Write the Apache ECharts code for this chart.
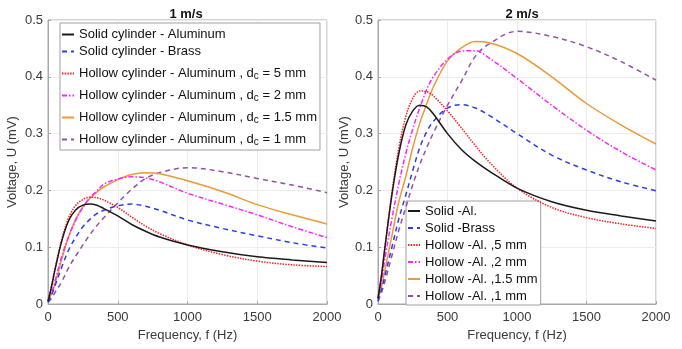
<!DOCTYPE html>
<html>
<head>
<meta charset="utf-8">
<script src="https://cdn.jsdelivr.net/npm/echarts@6/dist/echarts.min.js"></script>
<style>
html,body{margin:0;padding:0;background:#fff;}
#chart{width:682px;height:349px;}
</style>
</head>
<body>
<div id="chart"></div>
<script>
// Frequency samples (Hz)
const freq = [0,25,50,100,150,200,250,300,350,400,500,600,700,800,1000,1250,1500,1750,2000];
const xTicks = [0,500,1000,1500,2000];
const yTicks = [0,0.1,0.2,0.3,0.4,0.5];
const titles = ['1 m/s','2 m/s'];

// 1 m/s  (mV)
const v1SolidAl   = [0.005,0.030,0.060,0.112,0.148,0.166,0.174,0.176,0.174,0.168,0.155,0.140,0.128,0.118,0.104,0.092,0.083,0.0775,0.073];
const v1SolidBr   = [0.003,0.015,0.032,0.066,0.096,0.118,0.136,0.149,0.159,0.165,0.173,0.176,0.172,0.165,0.148,0.133,0.120,0.108,0.0985];
const v1Hollow5   = [0.005,0.032,0.062,0.115,0.153,0.174,0.184,0.188,0.187,0.183,0.170,0.153,0.137,0.124,0.104,0.087,0.0755,0.069,0.066];
const v1Hollow2   = [0.005,0.020,0.040,0.085,0.120,0.148,0.170,0.187,0.199,0.211,0.220,0.224,0.222,0.215,0.195,0.176,0.157,0.136,0.117];
const v1Hollow15  = [0.005,0.018,0.035,0.080,0.120,0.150,0.171,0.186,0.197,0.206,0.219,0.228,0.231,0.2295,0.217,0.198,0.175,0.157,0.141];
const v1Hollow1   = [0.003,0.010,0.020,0.040,0.065,0.085,0.104,0.122,0.138,0.152,0.178,0.202,0.221,0.231,0.240,0.233,0.221,0.2095,0.196];

// 2 m/s  (mV)
const v2SolidAl   = [0.010,0.050,0.100,0.192,0.265,0.315,0.340,0.350,0.347,0.334,0.300,0.272,0.251,0.234,0.204,0.180,0.165,0.155,0.146];
const v2SolidBr   = [0.005,0.025,0.050,0.100,0.150,0.192,0.235,0.275,0.303,0.322,0.345,0.351,0.345,0.332,0.300,0.262,0.236,0.215,0.1995];
const v2Hollow5   = [0.010,0.050,0.100,0.196,0.275,0.330,0.362,0.375,0.374,0.366,0.340,0.310,0.279,0.250,0.204,0.170,0.152,0.141,0.133];
const v2Hollow2   = [0.010,0.040,0.080,0.150,0.212,0.265,0.308,0.345,0.377,0.401,0.431,0.445,0.446,0.433,0.397,0.350,0.306,0.268,0.236];
const v2Hollow15  = [0.010,0.030,0.060,0.120,0.180,0.225,0.275,0.318,0.352,0.383,0.428,0.451,0.462,0.460,0.441,0.400,0.353,0.315,0.2817];
const v2Hollow1   = [0.005,0.020,0.040,0.085,0.130,0.170,0.210,0.245,0.275,0.302,0.350,0.392,0.436,0.458,0.480,0.471,0.453,0.4266,0.394];

const leftNames  = ['Solid cylinder - Aluminum','Solid cylinder - Brass','Hollow cylinder - Aluminum , dc = 5 mm','Hollow cylinder - Aluminum , dc = 2 mm','Hollow cylinder - Aluminum , dc = 1.5 mm','Hollow cylinder - Aluminum , dc = 1 mm'];
const rightNames = ['Solid -Al.','Solid -Brass','Hollow -Al. ,5 mm','Hollow -Al. ,2 mm','Hollow -Al. ,1.5 mm','Hollow -Al. ,1 mm'];

const styles = [
  {color:'#1a1a1a', type:'solid'},
  {color:'#2b3cf0', type:[5,4]},
  {color:'#ff2020', type:[1.5,1.2]},
  {color:'#ff22ff', type:[5,2,1.5,2]},
  {color:'#eb9a35', type:'solid'},
  {color:'#9250a6', type:[5,4]}
];

const leftData  = [v1SolidAl,v1SolidBr,v1Hollow5,v1Hollow2,v1Hollow15,v1Hollow1];
const rightData = [v2SolidAl,v2SolidBr,v2Hollow5,v2Hollow2,v2Hollow15,v2Hollow1];

function pairs(vals){ return freq.map((f,i)=>[f, vals[i]]); }

const series = [];
leftData.forEach((d,i)=>series.push({
  name:leftNames[i], type:'line', xAxisIndex:0, yAxisIndex:0, data:pairs(d),
  symbol:'none', smooth:0.35, lineStyle:{width:1.5, color:styles[i].color, type:styles[i].type},
  itemStyle:{color:styles[i].color}, z: 10-i
}));
rightData.forEach((d,i)=>series.push({
  name:rightNames[i], type:'line', xAxisIndex:1, yAxisIndex:1, data:pairs(d),
  symbol:'none', smooth:0.35, lineStyle:{width:1.5, color:styles[i].color, type:styles[i].type},
  itemStyle:{color:styles[i].color}, z: 10-i
}));

const axisGrey = '#a8a8a8';
const txt = '#3a3a3a';
const FF = 'Liberation Sans, Arial, sans-serif';
function xAx(gi){
  return {gridIndex:gi, type:'value', min:xTicks[0], max:xTicks[xTicks.length-1], interval:500,
    name:'Frequency, f (Hz)', nameLocation:'middle', nameGap:19,
    nameTextStyle:{fontSize:13, color:txt, fontFamily:FF},
    axisLine:{show:true, lineStyle:{color:axisGrey}},
    axisTick:{show:true, inside:true, length:3, lineStyle:{color:axisGrey}},
    axisLabel:{fontSize:13, color:txt, margin:7, fontFamily:FF, formatter:function(v){return String(v);}},
    splitLine:{show:true, lineStyle:{color:'#ececec'}}};
}
function yAx(gi, gap){
  return {gridIndex:gi, type:'value', min:yTicks[0], max:yTicks[yTicks.length-1], interval:0.1,
    name:'Voltage, U (mV)', nameLocation:'middle', nameGap:gap,
    nameTextStyle:{fontSize:13, color:txt, fontFamily:FF},
    axisLine:{show:true, lineStyle:{color:axisGrey}},
    axisTick:{show:true, inside:true, length:3, lineStyle:{color:axisGrey}},
    axisLabel:{fontSize:13, color:txt, margin:5, fontFamily:FF},
    splitLine:{show:true, lineStyle:{color:'#ececec'}}};
}

const rich = {sub:{fontSize:10, color:'#111', padding:[11,0,1,0], lineHeight:11, verticalAlign:'bottom', fontFamily:FF}};

const option = {
  animation:false,
  backgroundColor:'#fff',
  title:[
    {text:titles[0], left:181, top:3, textAlign:'center', textStyle:{fontSize:13, fontWeight:'bold', color:'#111', fontFamily:FF}},
    {text:titles[1], left:517, top:3, textAlign:'center', textStyle:{fontSize:13, fontWeight:'bold', color:'#111', fontFamily:FF}}
  ],
  grid:[
    {left:48, right:355, top:20, bottom:45, show:true, borderColor:axisGrey, borderWidth:1, backgroundColor:'transparent'},
    {left:378, right:26, top:20, bottom:45, show:true, borderColor:axisGrey, borderWidth:1, backgroundColor:'transparent'}
  ],
  xAxis:[xAx(0), xAx(1)],
  yAxis:[yAx(0,29), yAx(1,23)],
  legend:[
    {data:leftNames, orient:'vertical', left:60, top:23, itemWidth:12, itemHeight:10, itemGap:0,
     padding:[3,3,2,1], backgroundColor:'#fff', borderColor:'#a0a0a0', borderWidth:1,
     itemStyle:{opacity:0},
     formatter:function(n){ return n.replace(', dc =', ', d{sub|c} ='); },
     textStyle:{fontSize:13, color:'#111', lineHeight:17, fontFamily:FF, rich:rich}},
    {data:rightNames, orient:'vertical', left:406, top:201, itemWidth:12, itemHeight:10, itemGap:1,
     padding:[2,3,1,1], backgroundColor:'#fff', borderColor:'#a0a0a0', borderWidth:1,
     itemStyle:{opacity:0},
     textStyle:{fontSize:13, color:'#111', lineHeight:16, fontFamily:FF}}
  ],
  series:series
};

const chart = echarts.init(document.getElementById('chart'), null, {renderer:'canvas'});
chart.setOption(option);
</script>
</body>
</html>
